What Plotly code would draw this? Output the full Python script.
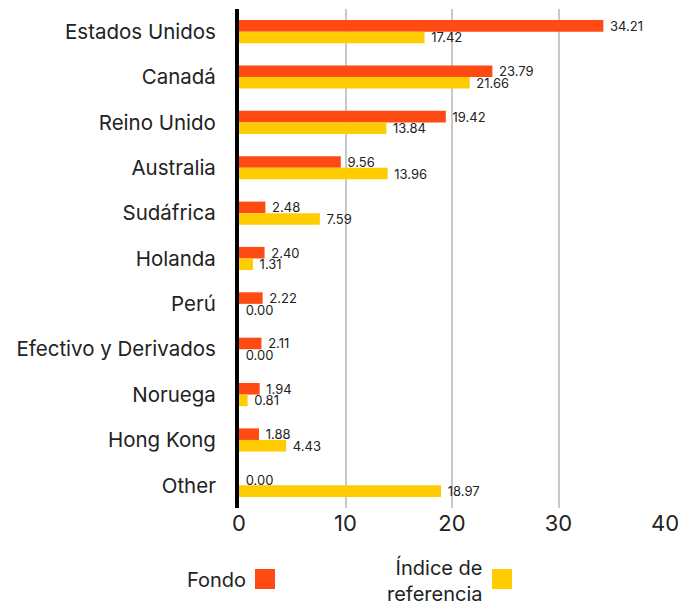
import plotly.graph_objects as go

categories = ["Estados Unidos", "Canadá", "Reino Unido", "Australia", "Sudáfrica",
              "Holanda", "Perú", "Efectivo y Derivados", "Noruega", "Hong Kong", "Other"]
fondo = [34.21, 23.79, 19.42, 9.56, 2.48, 2.40, 2.22, 2.11, 1.94, 1.88, 0.00]
indice = [17.42, 21.66, 13.84, 13.96, 7.59, 1.31, 0.00, 0.00, 0.81, 4.43, 18.97]
series_names = ["Fondo", "Índice de<br>referencia"]
colors = ["#FF4A14", "#FFCC00"]
x_ticks = [0, 10, 20, 30, 40]

FONT = "Inter"

fig = go.Figure()
for name, vals, col in zip(series_names, [fondo, indice], colors):
    fig.add_trace(go.Bar(
        y=categories, x=vals, orientation="h", name=name.replace("<br>", " "),
        marker=dict(color=col, line=dict(width=0)),
        text=["\u00a0" + f"{v:.2f}" for v in vals], textposition="outside",
        constraintext="none",
        textfont=dict(size=13, color="#222222", family=FONT),
        cliponaxis=False, showlegend=False,
    ))

# page has an 8px body margin; figure sized to fit the 692x606 window
fig.update_layout(
    width=684, height=598,
    margin=dict(l=231, r=27, t=1, b=98, autoexpand=False),
    barmode="group", bargap=0.49, bargroupgap=0,
    plot_bgcolor="white", paper_bgcolor="white",
    font=dict(family=FONT, color="#222222"),
    showlegend=False,
)
fig.update_xaxes(range=[0, 40], tickvals=x_ticks, showgrid=True, gridcolor="#C8C8C8",
                 gridwidth=2, zeroline=False, showline=False,
                 tickfont=dict(size=22, family=FONT, color="#222222"), ticks="")
fig.update_yaxes(autorange="reversed", showgrid=False, zeroline=False,
                 showline=True, linecolor="black", linewidth=4,
                 tickfont=dict(size=20.5, family=FONT, color="#222222"), ticks="",
                 ticklabelstandoff=15)

# custom legend: text to the left of swatch (coordinates relative to plot area)
PX0, PX1, PY0, PY1 = 239, 665, 9, 508
def px(x):
    return (x - PX0) / (PX1 - PX0)
def py(y):
    return (PY1 - y) / (PY1 - PY0)

legend_items = [
    (series_names[0], colors[0], 248, 255),
    (series_names[1], colors[1], 485, 492),
]
for text, col, tx, sx in legend_items:
    fig.add_annotation(x=px(tx), y=py(580), xref="paper", yref="paper",
                       xanchor="right", yanchor="middle", align="right",
                       text=text, showarrow=False,
                       font=dict(size=20, family=FONT, color="#222222"))
    fig.add_shape(type="rect", xref="paper", yref="paper",
                  x0=px(sx), x1=px(sx + 20), y0=py(589), y1=py(569),
                  fillcolor=col, line=dict(width=0))

fig.write_html("out.html")
